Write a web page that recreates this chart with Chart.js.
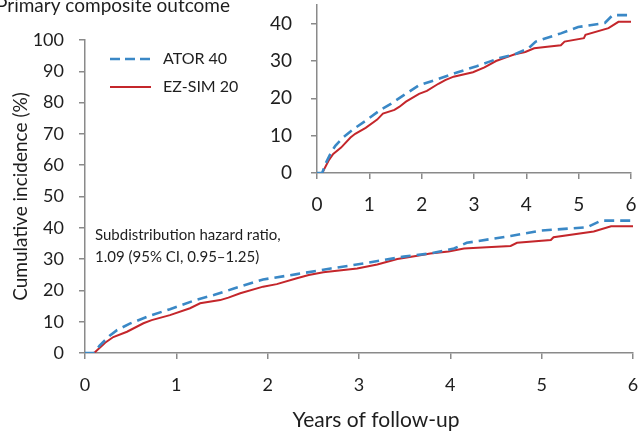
<!DOCTYPE html>
<html>
<head>
<meta charset="utf-8">
<script src="https://cdn.jsdelivr.net/npm/chart.js@4/dist/chart.umd.min.js"></script>
<style>
  html, body { margin: 0; padding: 0; background: #fff; }
  #wrap { position: relative; width: 638px; height: 437px; overflow: hidden; }
  #mainChart { position: absolute; left: 0; top: 0; }
  #insetChart { position: absolute; left: 230px; top: 0; }
</style>
</head>
<body>
<div id="wrap">
  <canvas id="mainChart" width="638" height="437"></canvas>
  <canvas id="insetChart" width="408" height="230"></canvas>
</div>
<script>
// cumulative incidence (%)
const atorYears = [0, 0.1, 0.16, 0.27, 0.35, 0.49, 0.71, 0.93, 1.22, 1.41, 1.63, 1.95, 2.32, 2.69, 3.05, 3.27, 3.49, 3.78, 4.04, 4.18, 4.66, 4.99, 5.5, 5.65, 6.0];
const atorValues = [0, 0, 2.4, 5.5, 7.3, 9.4, 11.9, 14.0, 17.0, 18.5, 20.6, 23.5, 25.2, 27.0, 28.6, 29.7, 30.8, 31.8, 33.4, 35.2, 37.4, 39.1, 40.2, 42.3, 42.3];

const ezsimYears = [0, 0.1, 0.22, 0.31, 0.46, 0.64, 0.73, 0.93, 1.15, 1.26, 1.48, 1.57, 1.70, 1.95, 2.1, 2.32, 2.45, 2.61, 2.98, 3.2, 3.42, 3.64, 3.78, 3.98, 4.15, 4.4, 4.66, 4.73, 5.10, 5.13, 5.57, 5.76, 6.0];
const ezsimValues = [0, 0, 3.3, 5.1, 6.8, 9.5, 10.5, 12.1, 14.3, 15.9, 16.9, 17.7, 19.1, 21.2, 22.0, 23.9, 24.9, 25.8, 27.0, 28.3, 30.0, 31.1, 31.8, 32.4, 33.4, 33.8, 34.2, 35.2, 36.1, 37.0, 38.8, 40.5, 40.5];

const seriesNames = ['ATOR 40', 'EZ-SIM 20'];
const seriesColors = ['#3a88c6', '#c4262b'];
const xTicks = [0, 1, 2, 3, 4, 5, 6];
const mainYTicks = [0, 10, 20, 30, 40, 50, 60, 70, 80, 90, 100];
const insetYTicks = [0, 10, 20, 30, 40];

const FONT = 'Lato, "Open Sans", sans-serif';
const AXIS = '#8a8a8a';
const TEXT = '#1e1e1e';

const toPoints = (xs, ys) => xs.map((x, i) => ({ x: x, y: ys[i] }));

function makeDatasets(width) {
    return [{
        label: seriesNames[0],
        data: toPoints(atorYears, atorValues),
        borderColor: seriesColors[0],
        borderWidth: width + 0.6,
        borderDash: [10, 6],
        pointRadius: 0,
        fill: false
    }, {
        label: seriesNames[1],
        data: toPoints(ezsimYears, ezsimValues),
        borderColor: seriesColors[1],
        borderWidth: width,
        pointRadius: 0,
        fill: false
    }];
}

function axisGrid() {
    return { display: true, drawOnChartArea: false, drawTicks: true, tickLength: 6, color: AXIS, lineWidth: 1.5 };
}

// fixed tick values, so nothing extra gets added at min / max
function fixTicks(values) {
    return scale => { scale.ticks = values.map(v => ({ value: v })); };
}

// pin the axis box size and stop tick labels from pushing the plot area in
function fixSize(w, h) {
    return s => {
        if (w) s.width = w;
        if (h) s.height = h;
        s.paddingLeft = 0; s.paddingRight = 0;
        s.paddingTop = 0; s.paddingBottom = 0;
    };
}

// text that lives on the main canvas: title, legend, x title and the hazard ratio note
const mainText = {
    id: 'mainText',
    afterDraw(chart) {
        const ctx = chart.ctx;
        ctx.save();
        ctx.fillStyle = TEXT;
        ctx.font = '19px ' + FONT;
        ctx.textAlign = 'right';
        ctx.textBaseline = 'alphabetic';
        ctx.fillText('Primary composite outcome', 230, 12);

        // legend
        const rows = [59, 87];
        seriesNames.forEach((name, i) => {
            ctx.beginPath();
            ctx.strokeStyle = seriesColors[i];
            ctx.lineWidth = i === 0 ? 2.6 : 2;
            ctx.setLineDash(i === 0 ? [10, 5] : []);
            ctx.moveTo(110, rows[i]);
            ctx.lineTo(151, rows[i]);
            ctx.stroke();
            ctx.setLineDash([]);
            ctx.textAlign = 'left';
            ctx.textBaseline = 'middle';
            ctx.font = '16px ' + FONT;
            ctx.fillText(name, 163, rows[i]);
        });

        ctx.font = '15px ' + FONT;
        ctx.textAlign = 'left';
        ctx.textBaseline = 'middle';
        ctx.fillText('Subdistribution hazard ratio,', 95, 235);
        ctx.fillText('1.09 (95% CI, 0.95\u20131.25)', 95, 257);

        ctx.font = '21px ' + FONT;
        ctx.textAlign = 'center';
        ctx.textBaseline = 'alphabetic';
        ctx.fillText('Years of follow-up', 376, 427);
        ctx.restore();
    }
};

new Chart(document.getElementById('mainChart'), {
    type: 'line',
    data: { datasets: makeDatasets(2) },
    options: {
        responsive: false,
        animation: false,
        layout: { padding: { left: 0, top: 40, right: 5, bottom: 0 } },
        plugins: { legend: { display: false }, tooltip: { enabled: false } },
        scales: {
            x: {
                type: 'linear', min: 0, max: 6,
                afterFit: fixSize(0, 84),
                afterBuildTicks: fixTicks(xTicks),
                grid: axisGrid(),
                border: { display: true, color: AXIS, width: 1.5 },
                ticks: { color: TEXT, font: { family: FONT, size: 18 }, padding: 15, maxRotation: 0 }
            },
            y: {
                type: 'linear', min: 0, max: 100,
                afterFit: fixSize(85, 0),
                afterBuildTicks: fixTicks(mainYTicks),
                grid: axisGrid(),
                border: { display: true, color: AXIS, width: 1.5 },
                ticks: { color: TEXT, font: { family: FONT, size: 18 }, padding: 15 },
                title: { display: true, text: 'Cumulative incidence (%)', color: TEXT,
                         font: { family: FONT, size: 19 }, padding: { top: 9, bottom: 0 } }
            }
        }
    },
    plugins: [mainText]
});

new Chart(document.getElementById('insetChart'), {
    type: 'line',
    data: { datasets: makeDatasets(2) },
    options: {
        responsive: false,
        animation: false,
        layout: { padding: { left: 0, top: 5, right: 7, bottom: 0 } },
        plugins: { legend: { display: false }, tooltip: { enabled: false } },
        scales: {
            x: {
                type: 'linear', min: 0, max: 6,
                afterFit: fixSize(0, 57),
                afterBuildTicks: fixTicks(xTicks),
                grid: axisGrid(),
                border: { display: true, color: AXIS, width: 1.5 },
                ticks: { color: TEXT, font: { family: FONT, size: 19 }, padding: 14, maxRotation: 0 }
            },
            y: {
                type: 'linear', min: 0, max: 45,
                afterFit: fixSize(87, 0),
                afterBuildTicks: fixTicks(insetYTicks),
                grid: axisGrid(),
                border: { display: true, color: AXIS, width: 1.5 },
                ticks: { color: TEXT, font: { family: FONT, size: 19 }, padding: 19 }
            }
        }
    }
});
</script>
</body>
</html>
